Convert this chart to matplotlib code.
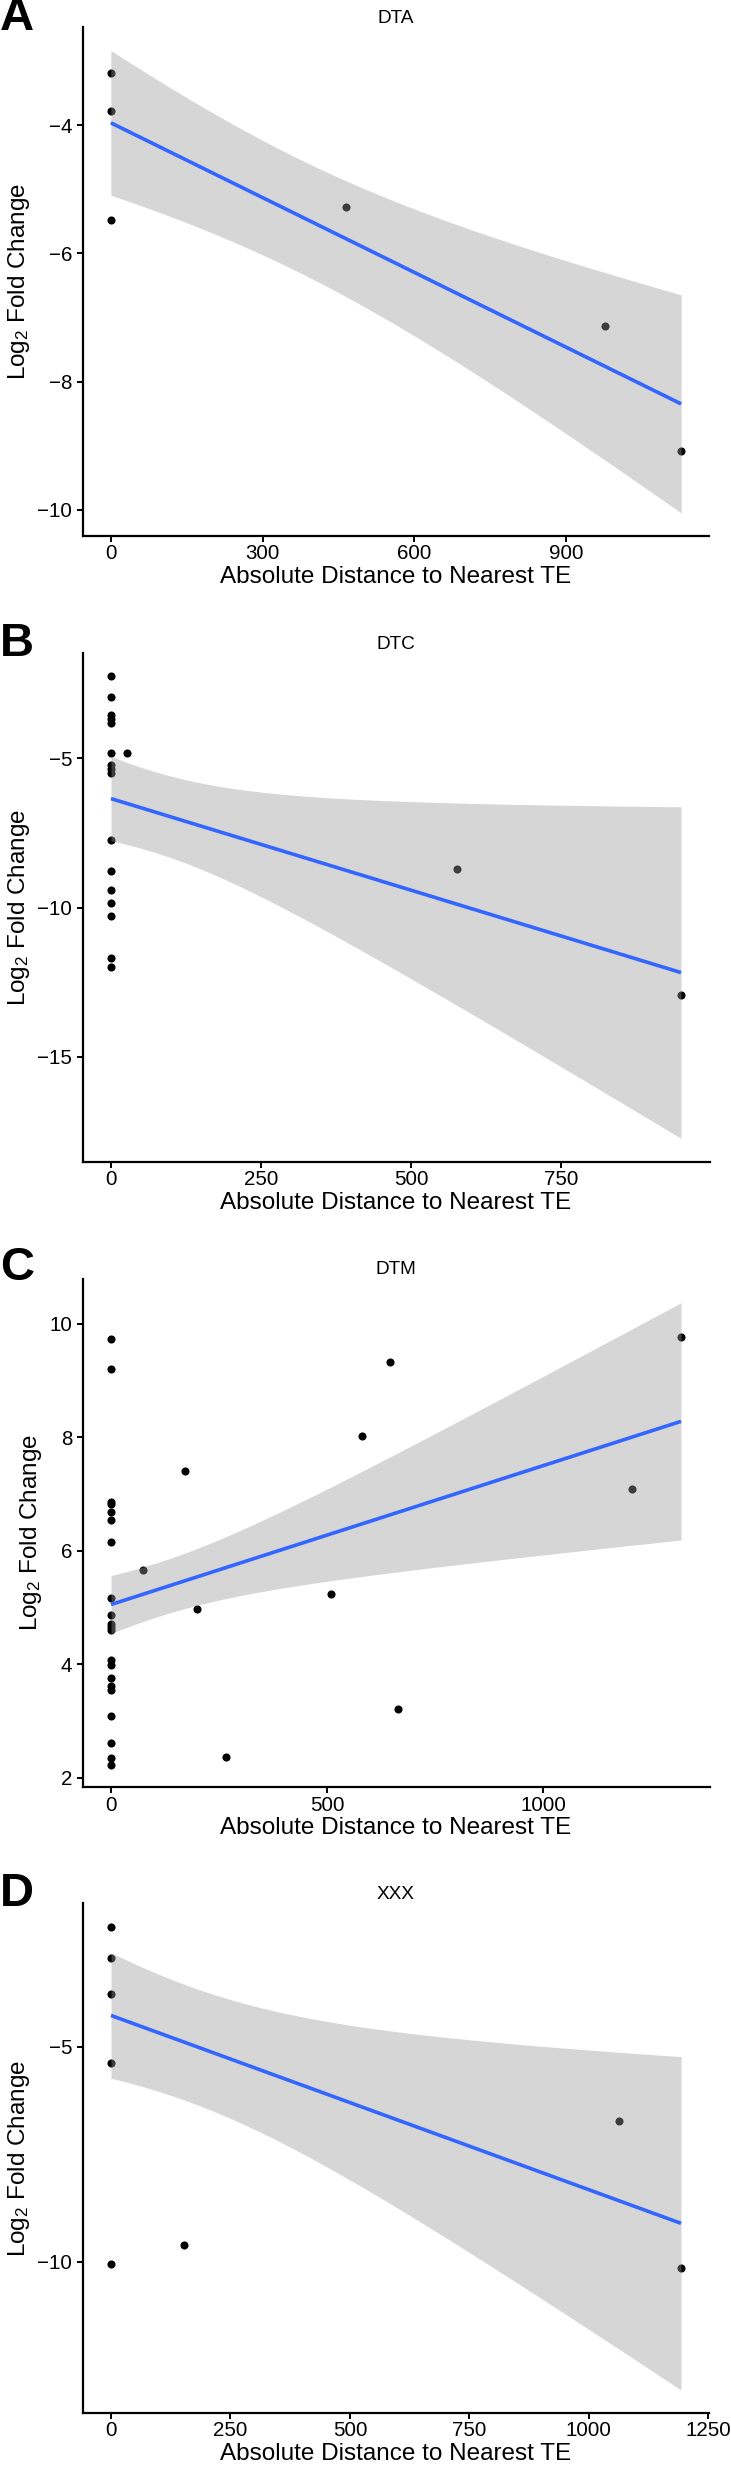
import math
import numpy as np
import matplotlib
matplotlib.use("Agg")
import matplotlib.pyplot as plt

plt.rcParams['font.family'] = ['Liberation Sans', 'DejaVu Sans']
plt.rcParams['mathtext.fontset'] = 'custom'
plt.rcParams['mathtext.rm'] = 'Liberation Sans'
plt.rcParams['mathtext.it'] = 'Liberation Sans:italic'

# ---------------- data ----------------
titles = ["DTA", "DTC", "DTM", "XXX"]
letters = ["A", "B", "C", "D"]

# *_n = how many observations sit on the same spot (overlapping dots)
dta_x = [0, 0, 0, 464, 976, 1127]
dta_y = [-3.19, -3.78, -5.48, -5.28, -7.14, -9.09]
dta_n = [1, 2, 1, 1, 1, 1]

dtc_x = [0] * 16 + [26, 576, 950]
dtc_y = [-2.24, -2.94, -3.55, -3.69, -3.80, -4.82, -5.23, -5.34, -5.48,
         -7.73, -8.77, -9.40, -9.83, -10.27, -11.67, -11.97,
         -4.82, -8.69, -12.94]
dtc_n = [2, 2, 1, 1, 1, 1, 1, 1, 1,
         2, 1, 2, 1, 1, 1, 1,
         1, 1, 1]

dtm_x = [0] * 21 + [75, 171, 200, 266, 509, 581, 645, 665, 1206, 1319]
dtm_y = [9.73, 9.21, 6.86, 6.83, 6.68, 6.54, 6.16, 5.16, 4.86, 4.71, 4.66,
         4.61, 4.08, 3.98, 3.75, 3.61, 3.55, 3.08, 2.61, 2.34, 2.23,
         5.66, 7.41, 4.97, 2.37, 5.23, 8.03, 9.32, 3.21, 7.09, 9.76]
dtm_n = [1, 1, 3, 1, 2, 2, 3, 4, 3, 3, 3,
         3, 3, 2, 1, 2, 1, 1, 1, 1, 1,
         1, 1, 1, 1, 1, 1, 1, 1, 1, 1]

xxx_x = [0, 0, 0, 0, 0, 153, 1063, 1193]
xxx_y = [-2.22, -2.92, -3.76, -5.38, -10.04, -9.61, -6.72, -10.15]
xxx_n = [1, 5, 4, 1, 1, 1, 1, 1]

xticks = [[0, 300, 600, 900], [0, 250, 500, 750], [0, 500, 1000],
          [0, 250, 500, 750, 1000, 1250]]
yticks = [[-10, -8, -6, -4], [-15, -10, -5], [2, 4, 6, 8, 10], [-10, -5]]
xlims = [(-56, 1183), (-47.5, 997.5), (-66, 1385), (-59.65, 1252.65)]
ylims = [(-10.41, -2.47), (-18.51, -1.46), (1.83, 10.80), (-13.51, -1.66)]

panels = [(dta_x, dta_y, dta_n), (dtc_x, dtc_y, dtc_n),
          (dtm_x, dtm_y, dtm_n), (xxx_x, xxx_y, xxx_n)]


def t_ppf(p, df):
    # numerical inverse of the Student t CDF
    xs = np.linspace(0, 30, 300001)
    c = math.gamma((df + 1) / 2) / (math.sqrt(df * math.pi) * math.gamma(df / 2))
    pdf = c * (1 + xs ** 2 / df) ** (-(df + 1) / 2)
    cdf = 0.5 + np.concatenate([[0], np.cumsum((pdf[1:] + pdf[:-1]) / 2 * np.diff(xs))])
    return float(np.interp(p, cdf, xs))


def lm_band(x, y, grid):
    # ordinary least squares line with 95% confidence band (like geom_smooth(method="lm"))
    x = np.asarray(x, float)
    y = np.asarray(y, float)
    n = len(x)
    b, a = np.polyfit(x, y, 1)
    res = y - (a + b * x)
    s = math.sqrt(np.sum(res ** 2) / (n - 2))
    mx = x.mean()
    sxx = np.sum((x - mx) ** 2)
    fit = a + b * grid
    se = s * np.sqrt(1 / n + (grid - mx) ** 2 / sxx)
    t = t_ppf(0.975, n - 2)
    return fit, fit - t * se, fit + t * se


W, H = 731, 2469
fig = plt.figure(figsize=(W / 100, H / 100), dpi=100)

# panel boxes in pixels: (left, top, right, bottom)
boxes = [(82.5, 27, 709.5, 536), (82.5, 652.7, 709.5, 1161.8),
         (82.5, 1278.5, 709.5, 1787.2), (82.5, 1903.4, 709.5, 2412.8)]
letter_y = [18.5, 643.5, 1268.5, 1894]

for i, ((px, py, pn), (l, t, r, b)) in enumerate(zip(panels, boxes)):
    ax = fig.add_axes([l / W, 1 - b / H, (r - l) / W, (b - t) / H])
    ax.scatter(px, py, s=34, color='black', linewidths=0, zorder=2)
    fx = np.repeat(px, pn)
    fy = np.repeat(py, pn)
    grid = np.linspace(min(px), max(px), 200)
    fit, lo, hi = lm_band(fx, fy, grid)
    ax.fill_between(grid, lo, hi, color='#999999', alpha=0.4, linewidth=0, zorder=3)
    ax.plot(grid, fit, color='#3366FF', linewidth=2.6, zorder=4, solid_capstyle='butt')
    ax.set_xlim(*xlims[i])
    ax.set_ylim(*ylims[i])
    ax.set_xticks(xticks[i])
    ax.set_yticks(yticks[i])
    for sp in ['top', 'right']:
        ax.spines[sp].set_visible(False)
    for sp in ['left', 'bottom']:
        ax.spines[sp].set_linewidth(1.6)
    ax.tick_params(axis='both', length=4.0, width=1.4, labelsize=14.8,
                   colors='black')
    ax.tick_params(axis='x', pad=2)
    ax.tick_params(axis='y', pad=3.5)
    ax.set_xlabel('Absolute Distance to Nearest TE', fontsize=17.5, labelpad=2)
    ax.set_ylabel('Log$_2$ Fold Change', fontsize=17.5, labelpad=4)
    ax.set_title(titles[i], fontsize=13.7, pad=3)
    fig.text(0.0, 1 - letter_y[i] / H, letters[i], fontsize=34, fontweight='bold',
             ha='left', va='center')

fig.savefig('out.png', dpi=100)
